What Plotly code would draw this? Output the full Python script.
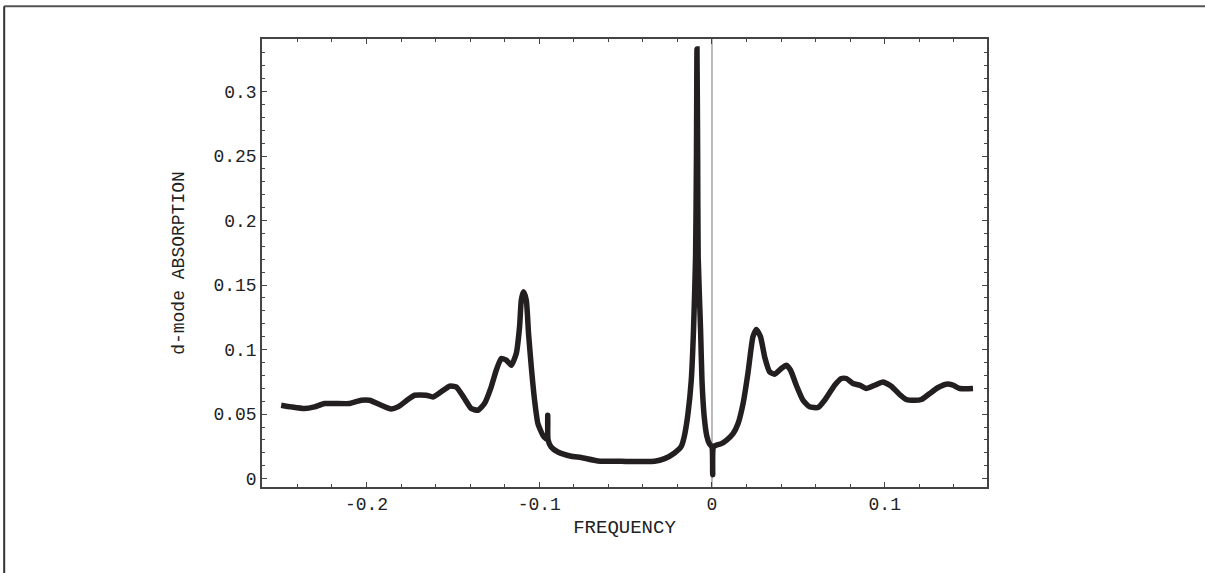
import plotly.graph_objects as go

# ---- data ----
freq = [-0.2494, -0.2436, -0.2359, -0.2301, -0.2243, -0.2098, -0.2031, -0.1983, -0.1915, -0.1857,
        -0.1818, -0.1760, -0.1722, -0.1654, -0.1616, -0.1577, -0.1519, -0.1481, -0.1433, -0.1394,
        -0.1355, -0.1317, -0.1278, -0.1249, -0.1220, -0.1191, -0.1162, -0.1133, -0.1114, -0.1104,
        -0.1091, -0.1075, -0.1062, -0.1046, -0.1027, -0.1008, -0.0979, -0.0962, -0.0953, -0.0951,
        -0.0949, -0.0931, -0.0892, -0.0815, -0.0757, -0.0660, -0.0525, -0.0332, -0.0274, -0.0217,
        -0.0178, -0.0160, -0.0139, -0.0120, -0.0107, -0.0095, -0.0090, -0.0087,
        -0.0083, -0.0080, -0.0066, -0.0058, -0.0045, -0.0030, -0.0015, 0.0000, 0.0004, 0.0010,
        0.0054, 0.0083, 0.0122, 0.0151, 0.0180, 0.0208, 0.0237, 0.0257, 0.0281, 0.0305,
        0.0334, 0.0362, 0.0401, 0.0430, 0.0455, 0.0488, 0.0527, 0.0565, 0.0614, 0.0652,
        0.0710, 0.0749, 0.0778, 0.0816, 0.0855, 0.0893, 0.0942, 0.0990, 0.1038, 0.1086,
        0.1125, 0.1173, 0.1212, 0.1260, 0.1309, 0.1357, 0.1395, 0.1434, 0.1511]
absorption = [0.0569, 0.0556, 0.0543, 0.0556, 0.0582, 0.0582, 0.0607, 0.0607, 0.0569, 0.0540,
              0.0556, 0.0613, 0.0646, 0.0646, 0.0633, 0.0664, 0.0716, 0.0711, 0.0621, 0.0543,
              0.0530, 0.0582, 0.0711, 0.0840, 0.0931, 0.0918, 0.0879, 0.0970, 0.1176, 0.1383,
              0.1448, 0.1383, 0.1125, 0.0866, 0.0607, 0.0427, 0.0336, 0.0310, 0.0305, 0.0491,
              0.0300, 0.0245, 0.0206, 0.0173, 0.0163, 0.0137, 0.0134, 0.0134, 0.0155, 0.0199,
              0.0250, 0.0330, 0.0504, 0.0762, 0.1150, 0.1719, 0.2500, 0.3330,
              0.2500, 0.1719, 0.1150, 0.0763, 0.0480, 0.0330, 0.0270, 0.0245, 0.0030, 0.0250,
              0.0271, 0.0297, 0.0349, 0.0427, 0.0582, 0.0815, 0.1099, 0.1156, 0.1099, 0.0943,
              0.0827, 0.0809, 0.0853, 0.0879, 0.0840, 0.0724, 0.0607, 0.0556, 0.0551, 0.0607,
              0.0724, 0.0776, 0.0776, 0.0737, 0.0724, 0.0698, 0.0724, 0.0749, 0.0716, 0.0652,
              0.0613, 0.0607, 0.0613, 0.0659, 0.0706, 0.0732, 0.0724, 0.0698, 0.0698]

x_tickvals = [-0.2, -0.1, 0.0, 0.1]
x_ticktext = ["-0.2", "-0.1", "0", "0.1"]
y_tickvals = [0.0, 0.05, 0.1, 0.15, 0.2, 0.25, 0.3]
y_ticktext = ["0", "0.05", "0.1", "0.15", "0.2", "0.25", "0.3"]
x_title = "FREQUENCY"
y_title = "d-mode ABSORPTION"

ink = "#231f20"
axis_col = "#444444"
mono = "Liberation Mono, DejaVu Sans Mono, monospace"

fig = go.Figure()
fig.add_trace(go.Scatter(
    x=freq, y=absorption, mode="lines",
    line=dict(color=ink, width=5.5, shape="spline", smoothing=0.5),
    hoverinfo="x+y", showlegend=False,
))

# thin vertical reference line at zero frequency
fig.add_shape(type="line", xref="x", yref="paper", x0=0, x1=0, y0=0, y1=1,
              line=dict(color="#777777", width=1), layer="below")

# outer frame of the picture (top and left edges)
fig.add_shape(type="line", xref="paper", yref="paper", x0=-0.3556, x1=1.31, y0=1.0733, y1=1.0733,
              line=dict(color="#555555", width=2))
fig.add_shape(type="line", xref="paper", yref="paper", x0=-0.3556, x1=-0.3556, y0=1.0733, y1=-0.2,
              line=dict(color="#333333", width=2))

fig.update_layout(
    width=1205, height=573,
    margin=dict(l=262, r=218, t=39, b=86),
    paper_bgcolor="white", plot_bgcolor="white",
    font=dict(family=mono, color="#222222"),
)
fig.update_xaxes(
    range=[-0.2605, 0.1592],
    tickvals=x_tickvals, ticktext=x_ticktext,
    ticks="inside", ticklen=5, tickwidth=1, tickcolor=axis_col,
    minor=dict(dtick=0.02, tick0=0, ticks="inside", ticklen=3, tickwidth=1, tickcolor=axis_col),
    showline=True, linecolor=axis_col, linewidth=1.5, mirror="ticks",
    showgrid=False, zeroline=False,
    tickfont=dict(family=mono, size=18, color="#222222"),
    title=dict(text=x_title, font=dict(family=mono, size=19, color="#222222"), standoff=5),
    automargin=False,
)
fig.update_yaxes(
    range=[-0.0065, 0.3407],
    tickvals=y_tickvals, ticktext=y_ticktext,
    ticks="inside", ticklen=5, tickwidth=1, tickcolor=axis_col,
    minor=dict(dtick=0.01, tick0=0, ticks="inside", ticklen=3, tickwidth=1, tickcolor=axis_col),
    showline=True, linecolor=axis_col, linewidth=1.5, mirror="ticks",
    showgrid=False, zeroline=False,
    tickfont=dict(family=mono, size=18, color="#222222"),
    title=dict(text=y_title, font=dict(family=mono, size=18, color="#222222"), standoff=24),
    automargin=False,
)

fig.write_html("out.html", config={"displayModeBar": False},
               post_script="document.body.style.margin='0';")
